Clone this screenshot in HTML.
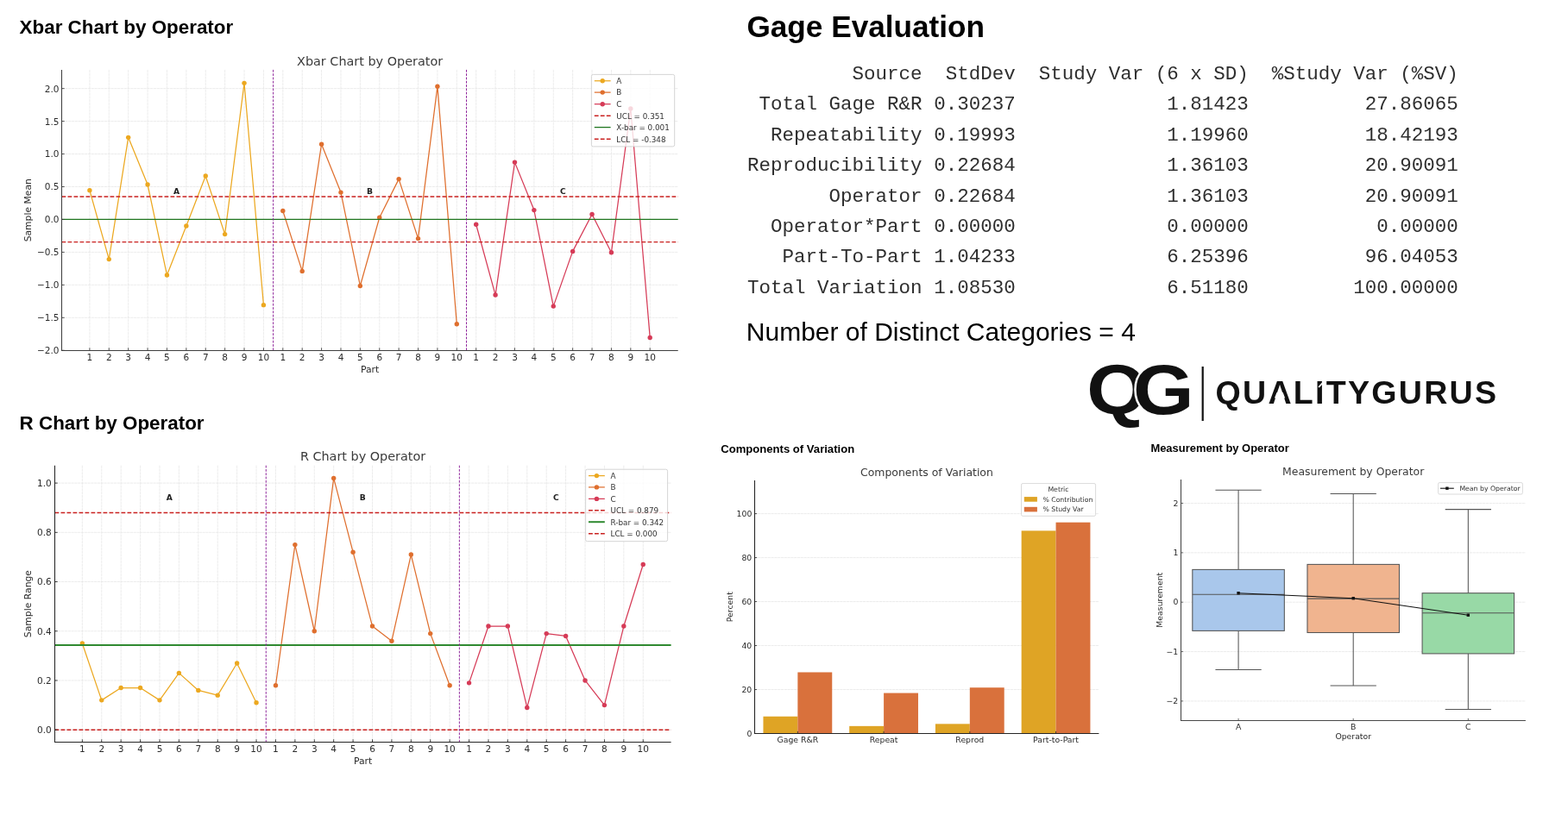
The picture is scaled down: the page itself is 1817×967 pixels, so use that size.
<!DOCTYPE html>
<html lang="en">
<head>
<meta charset="utf-8">
<title>Gage R&amp;R Study</title>
<style>
html,body{margin:0;padding:0;background:#fff;}
body{width:1817px;height:967px;position:relative;overflow:hidden;font-family:'Liberation Sans',sans-serif;color:#000;}
svg{position:absolute;left:0;top:0;}
svg text{font-family:'DejaVu Sans','Liberation Sans',sans-serif;fill:#2b2b2b;}
.grid{stroke:#e6e6e6;stroke-width:0.75;stroke-dasharray:3.2 0.6;}
.tk{font-size:10.5px;}
.lab{font-size:10.8px;}
.ttl{font-size:14.4px;fill:#3a3a3a;}
.grp{font-size:9.2px;font-weight:bold;fill:#222;}
.lg{font-size:8.8px;fill:#333;}
.tk2{font-size:9.3px;}
.ttl2{font-size:12.45px;fill:#3a3a3a;}
.lg2{font-size:7.75px;fill:#333;}
svg text.qg{font-family:'Liberation Sans',sans-serif;font-weight:bold;font-size:81px;fill:#111;}
svg text.qgt{font-family:'Liberation Sans',sans-serif;font-weight:bold;font-size:37.6px;fill:#111;letter-spacing:1.9px;}
h1,h2,h3,p,pre{margin:0;position:absolute;white-space:nowrap;}
pre{white-space:pre;}
.h-a{font-size:22.4px;font-weight:bold;line-height:1;}
.h-b{font-size:35.2px;font-weight:bold;line-height:1;}
.h-c{font-size:13.1px;font-weight:bold;line-height:1;}
.ndc{font-size:30px;line-height:1;}
pre{font-family:'Liberation Mono',monospace;font-size:22.5px;line-height:35.4px;color:#2e2e2e;}
</style>
</head>
<body>
<h2 class="h-a" style="left:22.6px;top:21.2px">Xbar Chart by Operator</h2>
<h2 class="h-a" style="left:22.6px;top:480px">R Chart by Operator</h2>
<h1 class="h-b" style="left:865.4px;top:13.27px">Gage Evaluation</h1>
<pre style="left:866.1px;top:69px">         Source  StdDev  Study Var (6 x SD)  %Study Var (%SV)
 Total Gage R&amp;R 0.30237             1.81423          27.86065
  Repeatability 0.19993             1.19960          18.42193
Reproducibility 0.22684             1.36103          20.90091
       Operator 0.22684             1.36103          20.90091
  Operator*Part 0.00000             0.00000           0.00000
   Part-To-Part 1.04233             6.25396          96.04053
Total Variation 1.08530             6.51180         100.00000</pre>
<p class="ndc" style="left:864.8px;top:370px">Number of Distinct Categories = 4</p>
<h3 class="h-c" style="left:835.2px;top:514.1px">Components of Variation</h3>
<h3 class="h-c" style="left:1333.4px;top:514.15px;font-size:12.95px">Measurement by Operator</h3>
<svg width="1817" height="967" viewBox="0 0 1817 967">
<g id="xbar">
<line x1="103.9" y1="80.9" x2="103.9" y2="406.5" class="grid"/>
<line x1="126.29" y1="80.9" x2="126.29" y2="406.5" class="grid"/>
<line x1="148.68" y1="80.9" x2="148.68" y2="406.5" class="grid"/>
<line x1="171.07" y1="80.9" x2="171.07" y2="406.5" class="grid"/>
<line x1="193.46" y1="80.9" x2="193.46" y2="406.5" class="grid"/>
<line x1="215.85" y1="80.9" x2="215.85" y2="406.5" class="grid"/>
<line x1="238.24" y1="80.9" x2="238.24" y2="406.5" class="grid"/>
<line x1="260.63" y1="80.9" x2="260.63" y2="406.5" class="grid"/>
<line x1="283.02" y1="80.9" x2="283.02" y2="406.5" class="grid"/>
<line x1="305.41" y1="80.9" x2="305.41" y2="406.5" class="grid"/>
<line x1="327.8" y1="80.9" x2="327.8" y2="406.5" class="grid"/>
<line x1="350.19" y1="80.9" x2="350.19" y2="406.5" class="grid"/>
<line x1="372.58" y1="80.9" x2="372.58" y2="406.5" class="grid"/>
<line x1="394.97" y1="80.9" x2="394.97" y2="406.5" class="grid"/>
<line x1="417.36" y1="80.9" x2="417.36" y2="406.5" class="grid"/>
<line x1="439.75" y1="80.9" x2="439.75" y2="406.5" class="grid"/>
<line x1="462.14" y1="80.9" x2="462.14" y2="406.5" class="grid"/>
<line x1="484.53" y1="80.9" x2="484.53" y2="406.5" class="grid"/>
<line x1="506.92" y1="80.9" x2="506.92" y2="406.5" class="grid"/>
<line x1="529.31" y1="80.9" x2="529.31" y2="406.5" class="grid"/>
<line x1="551.7" y1="80.9" x2="551.7" y2="406.5" class="grid"/>
<line x1="574.09" y1="80.9" x2="574.09" y2="406.5" class="grid"/>
<line x1="596.48" y1="80.9" x2="596.48" y2="406.5" class="grid"/>
<line x1="618.87" y1="80.9" x2="618.87" y2="406.5" class="grid"/>
<line x1="641.26" y1="80.9" x2="641.26" y2="406.5" class="grid"/>
<line x1="663.65" y1="80.9" x2="663.65" y2="406.5" class="grid"/>
<line x1="686.04" y1="80.9" x2="686.04" y2="406.5" class="grid"/>
<line x1="708.43" y1="80.9" x2="708.43" y2="406.5" class="grid"/>
<line x1="730.82" y1="80.9" x2="730.82" y2="406.5" class="grid"/>
<line x1="753.21" y1="80.9" x2="753.21" y2="406.5" class="grid"/>
<line x1="71.5" y1="102.65" x2="785.7" y2="102.65" class="grid"/>
<line x1="71.5" y1="140.6" x2="785.7" y2="140.6" class="grid"/>
<line x1="71.5" y1="178.55" x2="785.7" y2="178.55" class="grid"/>
<line x1="71.5" y1="216.5" x2="785.7" y2="216.5" class="grid"/>
<line x1="71.5" y1="254.45" x2="785.7" y2="254.45" class="grid"/>
<line x1="71.5" y1="292.4" x2="785.7" y2="292.4" class="grid"/>
<line x1="71.5" y1="330.35" x2="785.7" y2="330.35" class="grid"/>
<line x1="71.5" y1="368.3" x2="785.7" y2="368.3" class="grid"/>
<line x1="71.5" y1="406.25" x2="785.7" y2="406.25" class="grid"/>
<polyline fill="none" stroke="#ECA820" stroke-width="1.25" stroke-linejoin="round" points="103.9,220.67 126.29,300.6 148.68,159.35 171.07,214 193.46,318.96 215.85,262.04 238.24,204.05 260.63,271.6 283.02,96.35 305.41,353.65"/>
<circle cx="103.9" cy="220.67" r="2.7" fill="#ECA820"/>
<circle cx="126.29" cy="300.6" r="2.7" fill="#ECA820"/>
<circle cx="148.68" cy="159.35" r="2.7" fill="#ECA820"/>
<circle cx="171.07" cy="214" r="2.7" fill="#ECA820"/>
<circle cx="193.46" cy="318.96" r="2.7" fill="#ECA820"/>
<circle cx="215.85" cy="262.04" r="2.7" fill="#ECA820"/>
<circle cx="238.24" cy="204.05" r="2.7" fill="#ECA820"/>
<circle cx="260.63" cy="271.6" r="2.7" fill="#ECA820"/>
<circle cx="283.02" cy="96.35" r="2.7" fill="#ECA820"/>
<circle cx="305.41" cy="353.65" r="2.7" fill="#ECA820"/>
<polyline fill="none" stroke="#DF6F2E" stroke-width="1.25" stroke-linejoin="round" points="327.8,244.51 350.19,314.41 372.58,167.16 394.97,223.1 417.36,331.49 439.75,252.17 462.14,207.62 484.53,276.61 506.92,100.15 529.31,375.81"/>
<circle cx="327.8" cy="244.51" r="2.7" fill="#DF6F2E"/>
<circle cx="350.19" cy="314.41" r="2.7" fill="#DF6F2E"/>
<circle cx="372.58" cy="167.16" r="2.7" fill="#DF6F2E"/>
<circle cx="394.97" cy="223.1" r="2.7" fill="#DF6F2E"/>
<circle cx="417.36" cy="331.49" r="2.7" fill="#DF6F2E"/>
<circle cx="439.75" cy="252.17" r="2.7" fill="#DF6F2E"/>
<circle cx="462.14" cy="207.62" r="2.7" fill="#DF6F2E"/>
<circle cx="484.53" cy="276.61" r="2.7" fill="#DF6F2E"/>
<circle cx="506.92" cy="100.15" r="2.7" fill="#DF6F2E"/>
<circle cx="529.31" cy="375.81" r="2.7" fill="#DF6F2E"/>
<polyline fill="none" stroke="#D63B57" stroke-width="1.25" stroke-linejoin="round" points="551.7,260.22 574.09,342.04 596.48,188.11 618.87,243.6 641.26,355.09 663.65,291.41 686.04,248.53 708.43,292.78 730.82,126.03 753.21,391.53"/>
<circle cx="551.7" cy="260.22" r="2.7" fill="#D63B57"/>
<circle cx="574.09" cy="342.04" r="2.7" fill="#D63B57"/>
<circle cx="596.48" cy="188.11" r="2.7" fill="#D63B57"/>
<circle cx="618.87" cy="243.6" r="2.7" fill="#D63B57"/>
<circle cx="641.26" cy="355.09" r="2.7" fill="#D63B57"/>
<circle cx="663.65" cy="291.41" r="2.7" fill="#D63B57"/>
<circle cx="686.04" cy="248.53" r="2.7" fill="#D63B57"/>
<circle cx="708.43" cy="292.78" r="2.7" fill="#D63B57"/>
<circle cx="730.82" cy="126.03" r="2.7" fill="#D63B57"/>
<circle cx="753.21" cy="391.53" r="2.7" fill="#D63B57"/>
<line x1="71.5" y1="227.95" x2="785.7" y2="227.95" stroke="#C9201F" stroke-width="1.45" stroke-dasharray="4.8 2.2"/>
<line x1="71.5" y1="280.6" x2="785.7" y2="280.6" stroke="#C9201F" stroke-width="1.45" stroke-dasharray="4.8 2.2"/>
<line x1="71.5" y1="254.4" x2="785.7" y2="254.4" stroke="#1F761F" stroke-width="1.3"/>
<line x1="316.61" y1="80.9" x2="316.61" y2="406.5" stroke="#90289C" stroke-width="1" stroke-dasharray="2.8 1.5"/>
<line x1="540.5" y1="80.9" x2="540.5" y2="406.5" stroke="#90289C" stroke-width="1" stroke-dasharray="2.8 1.5"/>
<path d="M71.5 80.9V406.5H785.7" fill="none" stroke="#404040" stroke-width="1.05"/>
<line x1="103.9" y1="406.5" x2="103.9" y2="403.3" stroke="#404040" stroke-width="0.9"/>
<text x="103.9" y="418.1" class="tk" text-anchor="middle">1</text>
<line x1="126.29" y1="406.5" x2="126.29" y2="403.3" stroke="#404040" stroke-width="0.9"/>
<text x="126.29" y="418.1" class="tk" text-anchor="middle">2</text>
<line x1="148.68" y1="406.5" x2="148.68" y2="403.3" stroke="#404040" stroke-width="0.9"/>
<text x="148.68" y="418.1" class="tk" text-anchor="middle">3</text>
<line x1="171.07" y1="406.5" x2="171.07" y2="403.3" stroke="#404040" stroke-width="0.9"/>
<text x="171.07" y="418.1" class="tk" text-anchor="middle">4</text>
<line x1="193.46" y1="406.5" x2="193.46" y2="403.3" stroke="#404040" stroke-width="0.9"/>
<text x="193.46" y="418.1" class="tk" text-anchor="middle">5</text>
<line x1="215.85" y1="406.5" x2="215.85" y2="403.3" stroke="#404040" stroke-width="0.9"/>
<text x="215.85" y="418.1" class="tk" text-anchor="middle">6</text>
<line x1="238.24" y1="406.5" x2="238.24" y2="403.3" stroke="#404040" stroke-width="0.9"/>
<text x="238.24" y="418.1" class="tk" text-anchor="middle">7</text>
<line x1="260.63" y1="406.5" x2="260.63" y2="403.3" stroke="#404040" stroke-width="0.9"/>
<text x="260.63" y="418.1" class="tk" text-anchor="middle">8</text>
<line x1="283.02" y1="406.5" x2="283.02" y2="403.3" stroke="#404040" stroke-width="0.9"/>
<text x="283.02" y="418.1" class="tk" text-anchor="middle">9</text>
<line x1="305.41" y1="406.5" x2="305.41" y2="403.3" stroke="#404040" stroke-width="0.9"/>
<text x="305.41" y="418.1" class="tk" text-anchor="middle">10</text>
<line x1="327.8" y1="406.5" x2="327.8" y2="403.3" stroke="#404040" stroke-width="0.9"/>
<text x="327.8" y="418.1" class="tk" text-anchor="middle">1</text>
<line x1="350.19" y1="406.5" x2="350.19" y2="403.3" stroke="#404040" stroke-width="0.9"/>
<text x="350.19" y="418.1" class="tk" text-anchor="middle">2</text>
<line x1="372.58" y1="406.5" x2="372.58" y2="403.3" stroke="#404040" stroke-width="0.9"/>
<text x="372.58" y="418.1" class="tk" text-anchor="middle">3</text>
<line x1="394.97" y1="406.5" x2="394.97" y2="403.3" stroke="#404040" stroke-width="0.9"/>
<text x="394.97" y="418.1" class="tk" text-anchor="middle">4</text>
<line x1="417.36" y1="406.5" x2="417.36" y2="403.3" stroke="#404040" stroke-width="0.9"/>
<text x="417.36" y="418.1" class="tk" text-anchor="middle">5</text>
<line x1="439.75" y1="406.5" x2="439.75" y2="403.3" stroke="#404040" stroke-width="0.9"/>
<text x="439.75" y="418.1" class="tk" text-anchor="middle">6</text>
<line x1="462.14" y1="406.5" x2="462.14" y2="403.3" stroke="#404040" stroke-width="0.9"/>
<text x="462.14" y="418.1" class="tk" text-anchor="middle">7</text>
<line x1="484.53" y1="406.5" x2="484.53" y2="403.3" stroke="#404040" stroke-width="0.9"/>
<text x="484.53" y="418.1" class="tk" text-anchor="middle">8</text>
<line x1="506.92" y1="406.5" x2="506.92" y2="403.3" stroke="#404040" stroke-width="0.9"/>
<text x="506.92" y="418.1" class="tk" text-anchor="middle">9</text>
<line x1="529.31" y1="406.5" x2="529.31" y2="403.3" stroke="#404040" stroke-width="0.9"/>
<text x="529.31" y="418.1" class="tk" text-anchor="middle">10</text>
<line x1="551.7" y1="406.5" x2="551.7" y2="403.3" stroke="#404040" stroke-width="0.9"/>
<text x="551.7" y="418.1" class="tk" text-anchor="middle">1</text>
<line x1="574.09" y1="406.5" x2="574.09" y2="403.3" stroke="#404040" stroke-width="0.9"/>
<text x="574.09" y="418.1" class="tk" text-anchor="middle">2</text>
<line x1="596.48" y1="406.5" x2="596.48" y2="403.3" stroke="#404040" stroke-width="0.9"/>
<text x="596.48" y="418.1" class="tk" text-anchor="middle">3</text>
<line x1="618.87" y1="406.5" x2="618.87" y2="403.3" stroke="#404040" stroke-width="0.9"/>
<text x="618.87" y="418.1" class="tk" text-anchor="middle">4</text>
<line x1="641.26" y1="406.5" x2="641.26" y2="403.3" stroke="#404040" stroke-width="0.9"/>
<text x="641.26" y="418.1" class="tk" text-anchor="middle">5</text>
<line x1="663.65" y1="406.5" x2="663.65" y2="403.3" stroke="#404040" stroke-width="0.9"/>
<text x="663.65" y="418.1" class="tk" text-anchor="middle">6</text>
<line x1="686.04" y1="406.5" x2="686.04" y2="403.3" stroke="#404040" stroke-width="0.9"/>
<text x="686.04" y="418.1" class="tk" text-anchor="middle">7</text>
<line x1="708.43" y1="406.5" x2="708.43" y2="403.3" stroke="#404040" stroke-width="0.9"/>
<text x="708.43" y="418.1" class="tk" text-anchor="middle">8</text>
<line x1="730.82" y1="406.5" x2="730.82" y2="403.3" stroke="#404040" stroke-width="0.9"/>
<text x="730.82" y="418.1" class="tk" text-anchor="middle">9</text>
<line x1="753.21" y1="406.5" x2="753.21" y2="403.3" stroke="#404040" stroke-width="0.9"/>
<text x="753.21" y="418.1" class="tk" text-anchor="middle">10</text>
<line x1="71.5" y1="102.65" x2="74.7" y2="102.65" stroke="#404040" stroke-width="0.9"/>
<text x="68.5" y="106.55" class="tk" text-anchor="end">2.0</text>
<line x1="71.5" y1="140.6" x2="74.7" y2="140.6" stroke="#404040" stroke-width="0.9"/>
<text x="68.5" y="144.5" class="tk" text-anchor="end">1.5</text>
<line x1="71.5" y1="178.55" x2="74.7" y2="178.55" stroke="#404040" stroke-width="0.9"/>
<text x="68.5" y="182.45" class="tk" text-anchor="end">1.0</text>
<line x1="71.5" y1="216.5" x2="74.7" y2="216.5" stroke="#404040" stroke-width="0.9"/>
<text x="68.5" y="220.4" class="tk" text-anchor="end">0.5</text>
<line x1="71.5" y1="254.45" x2="74.7" y2="254.45" stroke="#404040" stroke-width="0.9"/>
<text x="68.5" y="258.35" class="tk" text-anchor="end">0.0</text>
<line x1="71.5" y1="292.4" x2="74.7" y2="292.4" stroke="#404040" stroke-width="0.9"/>
<text x="68.5" y="296.3" class="tk" text-anchor="end">−0.5</text>
<line x1="71.5" y1="330.35" x2="74.7" y2="330.35" stroke="#404040" stroke-width="0.9"/>
<text x="68.5" y="334.25" class="tk" text-anchor="end">−1.0</text>
<line x1="71.5" y1="368.3" x2="74.7" y2="368.3" stroke="#404040" stroke-width="0.9"/>
<text x="68.5" y="372.2" class="tk" text-anchor="end">−1.5</text>
<line x1="71.5" y1="406.25" x2="74.7" y2="406.25" stroke="#404040" stroke-width="0.9"/>
<text x="68.5" y="410.15" class="tk" text-anchor="end">−2.0</text>
<text x="204.66" y="225" class="grp" text-anchor="middle">A</text>
<text x="428.56" y="225" class="grp" text-anchor="middle">B</text>
<text x="652.46" y="225" class="grp" text-anchor="middle">C</text>
<text x="428.6" y="75.9" class="ttl" text-anchor="middle">Xbar Chart by Operator</text>
<text x="428.6" y="431.6" class="lab" text-anchor="middle">Part</text>
<text transform="translate(35.6 243.7) rotate(-90)" class="lab" text-anchor="middle">Sample Mean</text>
<rect x="685.4" y="86.4" width="96.3" height="83.5" rx="2" fill="#fff" fill-opacity="0.8" stroke="#d0d0d0" stroke-width="0.9"/>
<line x1="688.8" y1="93.75" x2="707.6" y2="93.75" stroke="#ECA820" stroke-width="1.25"/>
<circle cx="698.2" cy="93.75" r="2.7" fill="#ECA820"/>
<text x="714.3" y="97.05" class="lg">A</text>
<line x1="688.8" y1="107.1" x2="707.6" y2="107.1" stroke="#DF6F2E" stroke-width="1.25"/>
<circle cx="698.2" cy="107.1" r="2.7" fill="#DF6F2E"/>
<text x="714.3" y="110.4" class="lg">B</text>
<line x1="688.8" y1="120.7" x2="707.6" y2="120.7" stroke="#D63B57" stroke-width="1.25"/>
<circle cx="698.2" cy="120.7" r="2.7" fill="#D63B57"/>
<text x="714.3" y="124" class="lg">C</text>
<line x1="688.8" y1="134.2" x2="707.6" y2="134.2" stroke="#C9201F" stroke-width="1.45" stroke-dasharray="4.8 2.2"/>
<text x="714.3" y="137.5" class="lg">UCL = 0.351</text>
<line x1="688.8" y1="147.6" x2="707.6" y2="147.6" stroke="#1F761F" stroke-width="1.3"/>
<text x="714.3" y="150.9" class="lg">X-bar = 0.001</text>
<line x1="688.8" y1="161.2" x2="707.6" y2="161.2" stroke="#C9201F" stroke-width="1.45" stroke-dasharray="4.8 2.2"/>
<text x="714.3" y="164.5" class="lg">LCL = -0.348</text>
</g>
<g id="rchart">
<line x1="95.35" y1="539.7" x2="95.35" y2="860.5" class="grid"/>
<line x1="117.76" y1="539.7" x2="117.76" y2="860.5" class="grid"/>
<line x1="140.17" y1="539.7" x2="140.17" y2="860.5" class="grid"/>
<line x1="162.58" y1="539.7" x2="162.58" y2="860.5" class="grid"/>
<line x1="184.99" y1="539.7" x2="184.99" y2="860.5" class="grid"/>
<line x1="207.4" y1="539.7" x2="207.4" y2="860.5" class="grid"/>
<line x1="229.81" y1="539.7" x2="229.81" y2="860.5" class="grid"/>
<line x1="252.22" y1="539.7" x2="252.22" y2="860.5" class="grid"/>
<line x1="274.63" y1="539.7" x2="274.63" y2="860.5" class="grid"/>
<line x1="297.04" y1="539.7" x2="297.04" y2="860.5" class="grid"/>
<line x1="319.45" y1="539.7" x2="319.45" y2="860.5" class="grid"/>
<line x1="341.86" y1="539.7" x2="341.86" y2="860.5" class="grid"/>
<line x1="364.27" y1="539.7" x2="364.27" y2="860.5" class="grid"/>
<line x1="386.68" y1="539.7" x2="386.68" y2="860.5" class="grid"/>
<line x1="409.09" y1="539.7" x2="409.09" y2="860.5" class="grid"/>
<line x1="431.5" y1="539.7" x2="431.5" y2="860.5" class="grid"/>
<line x1="453.91" y1="539.7" x2="453.91" y2="860.5" class="grid"/>
<line x1="476.32" y1="539.7" x2="476.32" y2="860.5" class="grid"/>
<line x1="498.73" y1="539.7" x2="498.73" y2="860.5" class="grid"/>
<line x1="521.14" y1="539.7" x2="521.14" y2="860.5" class="grid"/>
<line x1="543.55" y1="539.7" x2="543.55" y2="860.5" class="grid"/>
<line x1="565.96" y1="539.7" x2="565.96" y2="860.5" class="grid"/>
<line x1="588.37" y1="539.7" x2="588.37" y2="860.5" class="grid"/>
<line x1="610.78" y1="539.7" x2="610.78" y2="860.5" class="grid"/>
<line x1="633.19" y1="539.7" x2="633.19" y2="860.5" class="grid"/>
<line x1="655.6" y1="539.7" x2="655.6" y2="860.5" class="grid"/>
<line x1="678.01" y1="539.7" x2="678.01" y2="860.5" class="grid"/>
<line x1="700.42" y1="539.7" x2="700.42" y2="860.5" class="grid"/>
<line x1="722.83" y1="539.7" x2="722.83" y2="860.5" class="grid"/>
<line x1="745.24" y1="539.7" x2="745.24" y2="860.5" class="grid"/>
<line x1="63.5" y1="560.1" x2="777.6" y2="560.1" class="grid"/>
<line x1="63.5" y1="617.32" x2="777.6" y2="617.32" class="grid"/>
<line x1="63.5" y1="674.54" x2="777.6" y2="674.54" class="grid"/>
<line x1="63.5" y1="731.76" x2="777.6" y2="731.76" class="grid"/>
<line x1="63.5" y1="788.98" x2="777.6" y2="788.98" class="grid"/>
<line x1="63.5" y1="846.2" x2="777.6" y2="846.2" class="grid"/>
<polyline fill="none" stroke="#ECA820" stroke-width="1.25" stroke-linejoin="round" points="95.35,746.07 117.76,811.87 140.17,797.56 162.58,797.56 184.99,811.87 207.4,780.4 229.81,800.42 252.22,806.15 274.63,768.95 297.04,814.73"/>
<circle cx="95.35" cy="746.07" r="2.7" fill="#ECA820"/>
<circle cx="117.76" cy="811.87" r="2.7" fill="#ECA820"/>
<circle cx="140.17" cy="797.56" r="2.7" fill="#ECA820"/>
<circle cx="162.58" cy="797.56" r="2.7" fill="#ECA820"/>
<circle cx="184.99" cy="811.87" r="2.7" fill="#ECA820"/>
<circle cx="207.4" cy="780.4" r="2.7" fill="#ECA820"/>
<circle cx="229.81" cy="800.42" r="2.7" fill="#ECA820"/>
<circle cx="252.22" cy="806.15" r="2.7" fill="#ECA820"/>
<circle cx="274.63" cy="768.95" r="2.7" fill="#ECA820"/>
<circle cx="297.04" cy="814.73" r="2.7" fill="#ECA820"/>
<polyline fill="none" stroke="#DF6F2E" stroke-width="1.25" stroke-linejoin="round" points="319.45,794.7 341.86,631.62 364.27,731.76 386.68,554.38 409.09,640.21 431.5,726.04 453.91,743.2 476.32,643.07 498.73,734.62 521.14,794.7"/>
<circle cx="319.45" cy="794.7" r="2.7" fill="#DF6F2E"/>
<circle cx="341.86" cy="631.62" r="2.7" fill="#DF6F2E"/>
<circle cx="364.27" cy="731.76" r="2.7" fill="#DF6F2E"/>
<circle cx="386.68" cy="554.38" r="2.7" fill="#DF6F2E"/>
<circle cx="409.09" cy="640.21" r="2.7" fill="#DF6F2E"/>
<circle cx="431.5" cy="726.04" r="2.7" fill="#DF6F2E"/>
<circle cx="453.91" cy="743.2" r="2.7" fill="#DF6F2E"/>
<circle cx="476.32" cy="643.07" r="2.7" fill="#DF6F2E"/>
<circle cx="498.73" cy="734.62" r="2.7" fill="#DF6F2E"/>
<circle cx="521.14" cy="794.7" r="2.7" fill="#DF6F2E"/>
<polyline fill="none" stroke="#D63B57" stroke-width="1.25" stroke-linejoin="round" points="543.55,791.84 565.96,726.04 588.37,726.04 610.78,820.45 633.19,734.62 655.6,737.48 678.01,788.98 700.42,817.59 722.83,726.04 745.24,654.51"/>
<circle cx="543.55" cy="791.84" r="2.7" fill="#D63B57"/>
<circle cx="565.96" cy="726.04" r="2.7" fill="#D63B57"/>
<circle cx="588.37" cy="726.04" r="2.7" fill="#D63B57"/>
<circle cx="610.78" cy="820.45" r="2.7" fill="#D63B57"/>
<circle cx="633.19" cy="734.62" r="2.7" fill="#D63B57"/>
<circle cx="655.6" cy="737.48" r="2.7" fill="#D63B57"/>
<circle cx="678.01" cy="788.98" r="2.7" fill="#D63B57"/>
<circle cx="700.42" cy="817.59" r="2.7" fill="#D63B57"/>
<circle cx="722.83" cy="726.04" r="2.7" fill="#D63B57"/>
<circle cx="745.24" cy="654.51" r="2.7" fill="#D63B57"/>
<line x1="63.5" y1="594.5" x2="777.6" y2="594.5" stroke="#C9201F" stroke-width="1.45" stroke-dasharray="4.8 2.2"/>
<line x1="63.5" y1="846.15" x2="777.6" y2="846.15" stroke="#C9201F" stroke-width="1.45" stroke-dasharray="4.8 2.2"/>
<line x1="63.5" y1="748" x2="777.6" y2="748" stroke="#2F8A30" stroke-width="2.0"/>
<line x1="308.25" y1="539.7" x2="308.25" y2="860.5" stroke="#90289C" stroke-width="1" stroke-dasharray="2.8 1.5"/>
<line x1="532.35" y1="539.7" x2="532.35" y2="860.5" stroke="#90289C" stroke-width="1" stroke-dasharray="2.8 1.5"/>
<path d="M63.5 539.7V860.5H777.6" fill="none" stroke="#262626" stroke-width="1.05"/>
<line x1="95.35" y1="860.5" x2="95.35" y2="857.3" stroke="#262626" stroke-width="0.9"/>
<text x="95.35" y="872.1" class="tk" text-anchor="middle">1</text>
<line x1="117.76" y1="860.5" x2="117.76" y2="857.3" stroke="#262626" stroke-width="0.9"/>
<text x="117.76" y="872.1" class="tk" text-anchor="middle">2</text>
<line x1="140.17" y1="860.5" x2="140.17" y2="857.3" stroke="#262626" stroke-width="0.9"/>
<text x="140.17" y="872.1" class="tk" text-anchor="middle">3</text>
<line x1="162.58" y1="860.5" x2="162.58" y2="857.3" stroke="#262626" stroke-width="0.9"/>
<text x="162.58" y="872.1" class="tk" text-anchor="middle">4</text>
<line x1="184.99" y1="860.5" x2="184.99" y2="857.3" stroke="#262626" stroke-width="0.9"/>
<text x="184.99" y="872.1" class="tk" text-anchor="middle">5</text>
<line x1="207.4" y1="860.5" x2="207.4" y2="857.3" stroke="#262626" stroke-width="0.9"/>
<text x="207.4" y="872.1" class="tk" text-anchor="middle">6</text>
<line x1="229.81" y1="860.5" x2="229.81" y2="857.3" stroke="#262626" stroke-width="0.9"/>
<text x="229.81" y="872.1" class="tk" text-anchor="middle">7</text>
<line x1="252.22" y1="860.5" x2="252.22" y2="857.3" stroke="#262626" stroke-width="0.9"/>
<text x="252.22" y="872.1" class="tk" text-anchor="middle">8</text>
<line x1="274.63" y1="860.5" x2="274.63" y2="857.3" stroke="#262626" stroke-width="0.9"/>
<text x="274.63" y="872.1" class="tk" text-anchor="middle">9</text>
<line x1="297.04" y1="860.5" x2="297.04" y2="857.3" stroke="#262626" stroke-width="0.9"/>
<text x="297.04" y="872.1" class="tk" text-anchor="middle">10</text>
<line x1="319.45" y1="860.5" x2="319.45" y2="857.3" stroke="#262626" stroke-width="0.9"/>
<text x="319.45" y="872.1" class="tk" text-anchor="middle">1</text>
<line x1="341.86" y1="860.5" x2="341.86" y2="857.3" stroke="#262626" stroke-width="0.9"/>
<text x="341.86" y="872.1" class="tk" text-anchor="middle">2</text>
<line x1="364.27" y1="860.5" x2="364.27" y2="857.3" stroke="#262626" stroke-width="0.9"/>
<text x="364.27" y="872.1" class="tk" text-anchor="middle">3</text>
<line x1="386.68" y1="860.5" x2="386.68" y2="857.3" stroke="#262626" stroke-width="0.9"/>
<text x="386.68" y="872.1" class="tk" text-anchor="middle">4</text>
<line x1="409.09" y1="860.5" x2="409.09" y2="857.3" stroke="#262626" stroke-width="0.9"/>
<text x="409.09" y="872.1" class="tk" text-anchor="middle">5</text>
<line x1="431.5" y1="860.5" x2="431.5" y2="857.3" stroke="#262626" stroke-width="0.9"/>
<text x="431.5" y="872.1" class="tk" text-anchor="middle">6</text>
<line x1="453.91" y1="860.5" x2="453.91" y2="857.3" stroke="#262626" stroke-width="0.9"/>
<text x="453.91" y="872.1" class="tk" text-anchor="middle">7</text>
<line x1="476.32" y1="860.5" x2="476.32" y2="857.3" stroke="#262626" stroke-width="0.9"/>
<text x="476.32" y="872.1" class="tk" text-anchor="middle">8</text>
<line x1="498.73" y1="860.5" x2="498.73" y2="857.3" stroke="#262626" stroke-width="0.9"/>
<text x="498.73" y="872.1" class="tk" text-anchor="middle">9</text>
<line x1="521.14" y1="860.5" x2="521.14" y2="857.3" stroke="#262626" stroke-width="0.9"/>
<text x="521.14" y="872.1" class="tk" text-anchor="middle">10</text>
<line x1="543.55" y1="860.5" x2="543.55" y2="857.3" stroke="#262626" stroke-width="0.9"/>
<text x="543.55" y="872.1" class="tk" text-anchor="middle">1</text>
<line x1="565.96" y1="860.5" x2="565.96" y2="857.3" stroke="#262626" stroke-width="0.9"/>
<text x="565.96" y="872.1" class="tk" text-anchor="middle">2</text>
<line x1="588.37" y1="860.5" x2="588.37" y2="857.3" stroke="#262626" stroke-width="0.9"/>
<text x="588.37" y="872.1" class="tk" text-anchor="middle">3</text>
<line x1="610.78" y1="860.5" x2="610.78" y2="857.3" stroke="#262626" stroke-width="0.9"/>
<text x="610.78" y="872.1" class="tk" text-anchor="middle">4</text>
<line x1="633.19" y1="860.5" x2="633.19" y2="857.3" stroke="#262626" stroke-width="0.9"/>
<text x="633.19" y="872.1" class="tk" text-anchor="middle">5</text>
<line x1="655.6" y1="860.5" x2="655.6" y2="857.3" stroke="#262626" stroke-width="0.9"/>
<text x="655.6" y="872.1" class="tk" text-anchor="middle">6</text>
<line x1="678.01" y1="860.5" x2="678.01" y2="857.3" stroke="#262626" stroke-width="0.9"/>
<text x="678.01" y="872.1" class="tk" text-anchor="middle">7</text>
<line x1="700.42" y1="860.5" x2="700.42" y2="857.3" stroke="#262626" stroke-width="0.9"/>
<text x="700.42" y="872.1" class="tk" text-anchor="middle">8</text>
<line x1="722.83" y1="860.5" x2="722.83" y2="857.3" stroke="#262626" stroke-width="0.9"/>
<text x="722.83" y="872.1" class="tk" text-anchor="middle">9</text>
<line x1="745.24" y1="860.5" x2="745.24" y2="857.3" stroke="#262626" stroke-width="0.9"/>
<text x="745.24" y="872.1" class="tk" text-anchor="middle">10</text>
<line x1="63.5" y1="560.1" x2="66.7" y2="560.1" stroke="#262626" stroke-width="0.9"/>
<text x="59.7" y="564" class="tk" text-anchor="end">1.0</text>
<line x1="63.5" y1="617.32" x2="66.7" y2="617.32" stroke="#262626" stroke-width="0.9"/>
<text x="59.7" y="621.22" class="tk" text-anchor="end">0.8</text>
<line x1="63.5" y1="674.54" x2="66.7" y2="674.54" stroke="#262626" stroke-width="0.9"/>
<text x="59.7" y="678.44" class="tk" text-anchor="end">0.6</text>
<line x1="63.5" y1="731.76" x2="66.7" y2="731.76" stroke="#262626" stroke-width="0.9"/>
<text x="59.7" y="735.66" class="tk" text-anchor="end">0.4</text>
<line x1="63.5" y1="788.98" x2="66.7" y2="788.98" stroke="#262626" stroke-width="0.9"/>
<text x="59.7" y="792.88" class="tk" text-anchor="end">0.2</text>
<line x1="63.5" y1="846.2" x2="66.7" y2="846.2" stroke="#262626" stroke-width="0.9"/>
<text x="59.7" y="850.1" class="tk" text-anchor="end">0.0</text>
<text x="196.19" y="580.2" class="grp" text-anchor="middle">A</text>
<text x="420.29" y="580.2" class="grp" text-anchor="middle">B</text>
<text x="644.39" y="580.2" class="grp" text-anchor="middle">C</text>
<text x="420.55" y="534.3" class="ttl" text-anchor="middle">R Chart by Operator</text>
<text x="420.55" y="885.8" class="lab" text-anchor="middle">Part</text>
<text transform="translate(35.6 700.1) rotate(-90)" class="lab" text-anchor="middle">Sample Range</text>
<rect x="678.6" y="544.2" width="95" height="83.5" rx="2" fill="#fff" fill-opacity="0.8" stroke="#d0d0d0" stroke-width="0.9"/>
<line x1="682" y1="551.6" x2="700.8" y2="551.6" stroke="#ECA820" stroke-width="1.25"/>
<circle cx="691.4" cy="551.6" r="2.7" fill="#ECA820"/>
<text x="707.5" y="554.9" class="lg">A</text>
<line x1="682" y1="564.9" x2="700.8" y2="564.9" stroke="#DF6F2E" stroke-width="1.25"/>
<circle cx="691.4" cy="564.9" r="2.7" fill="#DF6F2E"/>
<text x="707.5" y="568.2" class="lg">B</text>
<line x1="682" y1="578.4" x2="700.8" y2="578.4" stroke="#D63B57" stroke-width="1.25"/>
<circle cx="691.4" cy="578.4" r="2.7" fill="#D63B57"/>
<text x="707.5" y="581.7" class="lg">C</text>
<line x1="682" y1="591.8" x2="700.8" y2="591.8" stroke="#C9201F" stroke-width="1.45" stroke-dasharray="4.8 2.2"/>
<text x="707.5" y="595.1" class="lg">UCL = 0.879</text>
<line x1="682" y1="605.2" x2="700.8" y2="605.2" stroke="#2F8A30" stroke-width="2.0"/>
<text x="707.5" y="608.5" class="lg">R-bar = 0.342</text>
<line x1="682" y1="618.8" x2="700.8" y2="618.8" stroke="#C9201F" stroke-width="1.45" stroke-dasharray="4.8 2.2"/>
<text x="707.5" y="622.1" class="lg">LCL = 0.000</text>
</g>
<g id="bars">
<line x1="874.5" y1="799.52" x2="1273.4" y2="799.52" class="grid"/>
<line x1="874.5" y1="748.54" x2="1273.4" y2="748.54" class="grid"/>
<line x1="874.5" y1="697.56" x2="1273.4" y2="697.56" class="grid"/>
<line x1="874.5" y1="646.58" x2="1273.4" y2="646.58" class="grid"/>
<line x1="874.5" y1="595.6" x2="1273.4" y2="595.6" class="grid"/>
<rect x="884.47" y="830.72" width="39.89" height="19.78" fill="#DFA425"/>
<rect x="924.36" y="779.48" width="39.89" height="71.02" fill="#D9713C"/>
<line x1="924.36" y1="850.5" x2="924.36" y2="847.9" stroke="#262626" stroke-width="0.8"/>
<text x="924.36" y="861.1" class="tk2" text-anchor="middle">Gage R&amp;R</text>
<rect x="984.2" y="841.86" width="39.89" height="8.64" fill="#DFA425"/>
<rect x="1024.09" y="803.55" width="39.89" height="46.95" fill="#D9713C"/>
<line x1="1024.09" y1="850.5" x2="1024.09" y2="847.9" stroke="#262626" stroke-width="0.8"/>
<text x="1024.09" y="861.1" class="tk2" text-anchor="middle">Repeat</text>
<rect x="1083.92" y="839.36" width="39.89" height="11.14" fill="#DFA425"/>
<rect x="1123.81" y="797.23" width="39.89" height="53.27" fill="#D9713C"/>
<line x1="1123.81" y1="850.5" x2="1123.81" y2="847.9" stroke="#262626" stroke-width="0.8"/>
<text x="1123.81" y="861.1" class="tk2" text-anchor="middle">Reprod</text>
<rect x="1183.65" y="615.38" width="39.89" height="235.12" fill="#DFA425"/>
<rect x="1223.54" y="605.69" width="39.89" height="244.81" fill="#D9713C"/>
<line x1="1223.54" y1="850.5" x2="1223.54" y2="847.9" stroke="#262626" stroke-width="0.8"/>
<text x="1223.54" y="861.1" class="tk2" text-anchor="middle">Part-to-Part</text>
<path d="M874.5 556.9V850.5H1273.4" fill="none" stroke="#262626" stroke-width="1.1"/>
<line x1="874.5" y1="850.5" x2="877.1" y2="850.5" stroke="#262626" stroke-width="0.8"/>
<text x="871.3" y="853.7" class="tk2" text-anchor="end">0</text>
<line x1="874.5" y1="799.52" x2="877.1" y2="799.52" stroke="#262626" stroke-width="0.8"/>
<text x="871.3" y="802.72" class="tk2" text-anchor="end">20</text>
<line x1="874.5" y1="748.54" x2="877.1" y2="748.54" stroke="#262626" stroke-width="0.8"/>
<text x="871.3" y="751.74" class="tk2" text-anchor="end">40</text>
<line x1="874.5" y1="697.56" x2="877.1" y2="697.56" stroke="#262626" stroke-width="0.8"/>
<text x="871.3" y="700.76" class="tk2" text-anchor="end">60</text>
<line x1="874.5" y1="646.58" x2="877.1" y2="646.58" stroke="#262626" stroke-width="0.8"/>
<text x="871.3" y="649.78" class="tk2" text-anchor="end">80</text>
<line x1="874.5" y1="595.6" x2="877.1" y2="595.6" stroke="#262626" stroke-width="0.8"/>
<text x="871.3" y="598.8" class="tk2" text-anchor="end">100</text>
<text x="1073.95" y="552.2" class="ttl2" text-anchor="middle">Components of Variation</text>
<text transform="translate(849.2 703.7) rotate(-90)" class="tk2" text-anchor="middle">Percent</text>
<rect x="1183.5" y="560.6" width="86.1" height="37.7" rx="1.6" fill="#fff" fill-opacity="0.8" stroke="#d0d0d0" stroke-width="0.8"/>
<text x="1226.5" y="569.9" class="lg2" text-anchor="middle">Metric</text>
<rect x="1186.8" y="576.1" width="15.1" height="5.6" fill="#DFA425"/>
<text x="1208.4" y="581.7" class="lg2">% Contribution</text>
<rect x="1186.8" y="587.8" width="15.1" height="5.6" fill="#D9713C"/>
<text x="1208.4" y="593.4" class="lg2">% Study Var</text>
</g>
<g id="box">
<line x1="1368.5" y1="812.9" x2="1767.9" y2="812.9" class="grid"/>
<line x1="1368.5" y1="755.55" x2="1767.9" y2="755.55" class="grid"/>
<line x1="1368.5" y1="698.2" x2="1767.9" y2="698.2" class="grid"/>
<line x1="1368.5" y1="640.85" x2="1767.9" y2="640.85" class="grid"/>
<line x1="1368.5" y1="583.5" x2="1767.9" y2="583.5" class="grid"/>
<path d="M1435.07 660.4V568.3M1408.44 568.3H1461.69M1435.07 731.4V776.5M1408.44 776.5H1461.69" fill="none" stroke="#555555" stroke-width="1.05"/>
<rect x="1381.81" y="660.4" width="106.51" height="71" fill="#A9C7EB" stroke="#555555" stroke-width="1.05"/>
<line x1="1381.81" y1="689.3" x2="1488.32" y2="689.3" stroke="#555555" stroke-width="1.05"/>
<line x1="1435.07" y1="835.5" x2="1435.07" y2="832.9" stroke="#484848" stroke-width="0.8"/>
<text x="1435.07" y="845.9" class="tk2" text-anchor="middle">A</text>
<path d="M1568.2 654.4V572.4M1541.57 572.4H1594.83M1568.2 733.5V794.9M1541.57 794.9H1594.83" fill="none" stroke="#555555" stroke-width="1.05"/>
<rect x="1514.95" y="654.4" width="106.51" height="79.1" fill="#F0B48F" stroke="#555555" stroke-width="1.05"/>
<line x1="1514.95" y1="694.1" x2="1621.45" y2="694.1" stroke="#555555" stroke-width="1.05"/>
<line x1="1568.2" y1="835.5" x2="1568.2" y2="832.9" stroke="#484848" stroke-width="0.8"/>
<text x="1568.2" y="845.9" class="tk2" text-anchor="middle">B</text>
<path d="M1701.33 687.7V590.6M1674.71 590.6H1727.96M1701.33 757.9V822.4M1674.71 822.4H1727.96" fill="none" stroke="#555555" stroke-width="1.05"/>
<rect x="1648.08" y="687.7" width="106.51" height="70.2" fill="#98D9A6" stroke="#555555" stroke-width="1.05"/>
<line x1="1648.08" y1="710.7" x2="1754.59" y2="710.7" stroke="#555555" stroke-width="1.05"/>
<line x1="1701.33" y1="835.5" x2="1701.33" y2="832.9" stroke="#484848" stroke-width="0.8"/>
<text x="1701.33" y="845.9" class="tk2" text-anchor="middle">C</text>
<polyline fill="none" stroke="#111" stroke-width="1.1" points="1435.07,687.7 1568.2,693.7 1701.33,713.2"/>
<rect x="1433.37" y="686" width="3.4" height="3.4" fill="#111"/>
<rect x="1566.5" y="692" width="3.4" height="3.4" fill="#111"/>
<rect x="1699.63" y="711.5" width="3.4" height="3.4" fill="#111"/>
<path d="M1368.5 556V835.5H1767.9" fill="none" stroke="#484848" stroke-width="1.1"/>
<line x1="1368.5" y1="812.9" x2="1371.1" y2="812.9" stroke="#484848" stroke-width="0.8"/>
<text x="1365.3" y="816.1" class="tk2" text-anchor="end">−2</text>
<line x1="1368.5" y1="755.55" x2="1371.1" y2="755.55" stroke="#484848" stroke-width="0.8"/>
<text x="1365.3" y="758.75" class="tk2" text-anchor="end">−1</text>
<line x1="1368.5" y1="698.2" x2="1371.1" y2="698.2" stroke="#484848" stroke-width="0.8"/>
<text x="1365.3" y="701.4" class="tk2" text-anchor="end">0</text>
<line x1="1368.5" y1="640.85" x2="1371.1" y2="640.85" stroke="#484848" stroke-width="0.8"/>
<text x="1365.3" y="644.05" class="tk2" text-anchor="end">1</text>
<line x1="1368.5" y1="583.5" x2="1371.1" y2="583.5" stroke="#484848" stroke-width="0.8"/>
<text x="1365.3" y="586.7" class="tk2" text-anchor="end">2</text>
<text x="1568.2" y="551.2" class="ttl2" text-anchor="middle">Measurement by Operator</text>
<text x="1568.2" y="857.4" class="tk2" text-anchor="middle">Operator</text>
<text transform="translate(1346.8 695.75) rotate(-90)" class="tk2" text-anchor="middle">Measurement</text>
<rect x="1666.6" y="559.6" width="97.8" height="13.4" rx="1.6" fill="#fff" fill-opacity="0.8" stroke="#d0d0d0" stroke-width="0.8"/>
<line x1="1669" y1="566.2" x2="1684.8" y2="566.2" stroke="#111" stroke-width="1.1"/>
<rect x="1675.2" y="564.5" width="3.4" height="3.4" fill="#111"/>
<text x="1691.4" y="569" class="lg2">Mean by Operator</text>
</g>
<g id="logo">
<text transform="translate(1259.3 480) scale(1.12 1)" x="0" y="0" class="qg">Q<tspan dx="-15.1" stroke="#fff" stroke-width="4.4" paint-order="stroke" stroke-linejoin="round">G</tspan></text>
<rect x="1392.6" y="425" width="2.2" height="63" fill="#111"/>
<text x="1408.6" y="468.1" class="qgt" style="letter-spacing:2.25px">QUALITYGURUS</text>
<path d="M1479.49 454.9H1486.64L1489.18 461.5H1476.95Z" fill="#fff"/>
<path d="M1527.41 448.4L1533.71 441.4L1535.11 442.6L1528.81 449.6Z" fill="#fff"/>
</g>
</svg>
</body>
</html>
